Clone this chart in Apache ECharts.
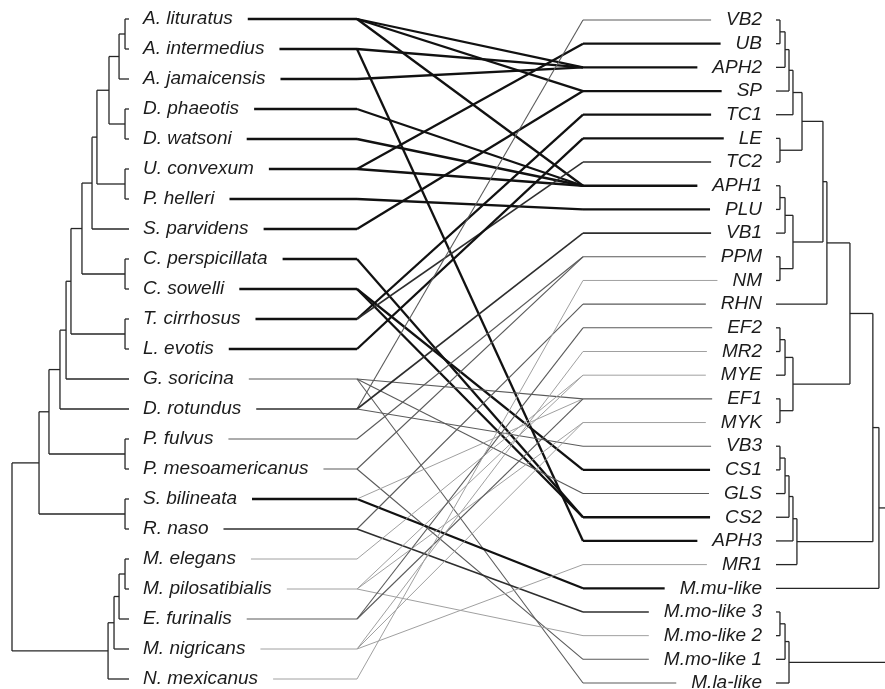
<!DOCTYPE html>
<html><head><meta charset="utf-8">
<script src="https://cdn.jsdelivr.net/npm/echarts@6/dist/echarts.min.js"></script>
<style>html,body{margin:0;padding:0;background:#fff}#c{width:885px;height:689px}</style>
</head><body><div id="c"></div>
<script>
// ---------- DATA ----------
const leftTips = ["A. lituratus","A. intermedius","A. jamaicensis","D. phaeotis","D. watsoni","U. convexum","P. helleri","S. parvidens","C. perspicillata","C. sowelli","T. cirrhosus","L. evotis","G. soricina","D. rotundus","P. fulvus","P. mesoamericanus","S. bilineata","R. naso","M. elegans","M. pilosatibialis","E. furinalis","M. nigricans","N. mexicanus"];
const rightTips = ["VB2","UB","APH2","SP","TC1","LE","TC2","APH1","PLU","VB1","PPM","NM","RHN","EF2","MR2","MYE","EF1","MYK","VB3","CS1","GLS","CS2","APH3","MR1","M.mu-like","M.mo-like 3","M.mo-like 2","M.mo-like 1","M.la-like"];
// trees: [nodeHeight, child, child]; tips are names (height 0)
const leftTree = [1.0,
  [0.769,
    [0.684,
      [0.590,
        [0.538,
          [0.496,
            [0.402,
              [0.316,
                [0.274,
                  [0.171,
                    [0.085, [0.034, "A. lituratus", "A. intermedius"], "A. jamaicensis"],
                    [0.034, "D. phaeotis", "D. watsoni"]],
                  [0.034, "U. convexum", "P. helleri"]],
                "S. parvidens"],
              [0.034, "C. perspicillata", "C. sowelli"]],
            [0.034, "T. cirrhosus", "L. evotis"]],
          "G. soricina"],
        "D. rotundus"],
      [0.034, "P. fulvus", "P. mesoamericanus"]],
    [0.034, "S. bilineata", "R. naso"]],
  [0.179, [0.128, [0.085, [0.034, "M. elegans", "M. pilosatibialis"], "E. furinalis"], "M. nigricans"], "N. mexicanus"]
];
const rightTree = [1.0,
  [0.831,
    [0.782,
      [0.597,
        [0.411,
          [0.379,
            [0.210,
              [0.137, [0.105, [0.073, [0.032, "VB2", "UB"], "APH2"], "SP"], "TC1"],
              [0.032, "LE", "TC2"]],
            [0.137, [0.073, [0.032, "APH1", "PLU"], "VB1"], [0.032, "PPM", "NM"]]],
          "RHN"],
        [0.137, [0.073, [0.032, "EF2", "MR2"], "MYE"], [0.032, "EF1", "MYK"]]],
      [0.169, [0.137, [0.105, [0.073, [0.032, "VB3", "CS1"], "GLS"], "CS2"], "APH3"], "MR1"]],
    "M.mu-like"],
  [0.105, [0.073, [0.032, "M.mo-like 3", "M.mo-like 2"], "M.mo-like 1"], "M.la-like"]
];
const rightVisibleHeight = 0.88; // the right tree's root lies beyond the picture's right edge
const linkLeft = ["A. lituratus","A. lituratus","A. lituratus","A. intermedius","A. intermedius","A. jamaicensis","D. phaeotis","D. watsoni","U. convexum","U. convexum","P. helleri","S. parvidens","C. perspicillata","C. sowelli","C. sowelli","T. cirrhosus","T. cirrhosus","L. evotis","G. soricina","G. soricina","G. soricina","D. rotundus","D. rotundus","D. rotundus","P. fulvus","P. mesoamericanus","P. mesoamericanus","S. bilineata","S. bilineata","R. naso","R. naso","M. elegans","M. pilosatibialis","M. pilosatibialis","M. pilosatibialis","E. furinalis","E. furinalis","M. nigricans","M. nigricans","M. nigricans","N. mexicanus"];
const linkRight = ["APH2","SP","APH1","APH2","APH3","APH2","APH1","APH1","UB","APH1","PLU","SP","CS2","CS1","CS2","TC1","TC2","LE","EF1","GLS","M.la-like","VB2","VB1","VB3","PPM","PPM","M.mo-like 1","M.mu-like","EF1","RHN","M.mo-like 3","MYE","MYE","MYK","M.mo-like 2","EF2","EF1","MR2","MYK","MR1","NM"];
const linkStrength = [3,3,3,3,3,3,3,3,3,3,3,3,3,3,3,3,2,3,1,1,1,1,2,1,1,1,1,3,0,1,2,0,0,0,0,1,1,0,0,0,0];

// ---------- STYLE ----------
const FONT_SIZE = 19, FONT_FAMILY = '"Liberation Sans", Arial, sans-serif';
const levelStyle = [
  {stroke:'#a0a0a0', lineWidth:1},
  {stroke:'#5a5a5a', lineWidth:1.1},
  {stroke:'#2e2e2e', lineWidth:1.6},
  {stroke:'#111111', lineWidth:2.3}
];
const TREE_STYLE = {stroke:'#262626', lineWidth:1.3};
const LABEL_GAP = 14, STUB_GAP = 15;

const ctx = document.createElement('canvas').getContext('2d');
ctx.font = 'italic ' + FONT_SIZE + 'px ' + FONT_FAMILY;
const textW = s => ctx.measureText(s).width;

function treeSegments(tree, tips) {
  const segs = [];
  (function walk(n) {
    if (typeof n === 'string') return {h: 0, y: tips.indexOf(n)};
    const h = n[0];
    const kids = n.slice(1).map(walk);
    const ys = kids.map(k => k.y);
    const lo = Math.min(...ys), hi = Math.max(...ys);
    segs.push([h, lo, h, hi]);
    kids.forEach(k => segs.push([k.h, k.y, h, k.y]));
    return {h, y: (lo + hi) / 2};
  })(tree);
  return segs;
}
const leftSegs = treeSegments(leftTree, leftTips);
const rightSegs = treeSegments(rightTree, rightTips);

const linkData = linkLeft.map((l, i) => [leftTips.indexOf(l), rightTips.indexOf(linkRight[i]), linkStrength[i]]);
const leftLevel = leftTips.map(n => Math.max(...linkLeft.map((l, i) => l === n ? linkStrength[i] : -1)));
const rightLevel = rightTips.map(n => Math.max(...linkRight.map((r, i) => r === n ? linkStrength[i] : -1)));

const chart = echarts.init(document.getElementById('c'), null, {renderer: 'canvas'});

function segRender(params, api) {
  const a = api.coord([api.value(0), api.value(1)]);
  const b = api.coord([api.value(2), api.value(3)]);
  return {type: 'line', shape: {x1: a[0], y1: a[1], x2: b[0], y2: b[1]}, style: TREE_STYLE, silent: true};
}
function textEl(x, y, s, align) {
  return {type: 'text', x, y, silent: true,
    style: {text: s, fill: '#1c1c1c', fontSize: FONT_SIZE, fontFamily: FONT_FAMILY, fontStyle: 'italic', align, verticalAlign: 'middle'}};
}
const axisHidden = {show: false};

chart.setOption({
  animation: false,
  backgroundColor: '#fff',
  grid: [
    {left: 12, width: 117, top: 19, bottom: 10},      // left tree
    {left: 776, right: 0, top: 20, bottom: 6},        // right tree
    {left: 357, width: 226, top: 19, bottom: 10}      // connector band
  ],
  xAxis: [
    Object.assign({type: 'value', gridIndex: 0, min: 0, max: 1, inverse: true}, axisHidden),
    Object.assign({type: 'value', gridIndex: 1, min: 0, max: rightVisibleHeight}, axisHidden),
    Object.assign({type: 'value', gridIndex: 2, min: 0, max: 1}, axisHidden)
  ],
  yAxis: [
    Object.assign({type: 'value', gridIndex: 0, min: 0, max: leftTips.length - 1, inverse: true}, axisHidden),
    Object.assign({type: 'value', gridIndex: 1, min: 0, max: rightTips.length - 1, inverse: true}, axisHidden),
    Object.assign({type: 'value', gridIndex: 2, min: 0, max: leftTips.length - 1, inverse: true}, axisHidden)
  ],
  series: [
    {type: 'custom', xAxisIndex: 0, yAxisIndex: 0, data: leftSegs, renderItem: segRender, encode: {x: [0, 2], y: [1, 3]}},
    {type: 'custom', xAxisIndex: 1, yAxisIndex: 1, data: rightSegs, renderItem: segRender, encode: {x: [0, 2], y: [1, 3]}},
    {type: 'custom', xAxisIndex: 0, yAxisIndex: 0, data: leftTips.map((n, i) => [0, i]),
      encode: {x: 0, y: 1},
      renderItem: (p, api) => {
        const pt = api.coord([0, api.value(1)]);
        return textEl(pt[0] + LABEL_GAP, pt[1], leftTips[p.dataIndex], 'left');
      }},
    {type: 'custom', xAxisIndex: 1, yAxisIndex: 1, data: rightTips.map((n, i) => [0, i]),
      encode: {x: 0, y: 1},
      renderItem: (p, api) => {
        const pt = api.coord([0, api.value(1)]);
        return textEl(pt[0] - LABEL_GAP, pt[1], rightTips[p.dataIndex], 'right');
      }},
    // left stubs: label end -> connector start
    {type: 'custom', xAxisIndex: 2, yAxisIndex: 2, data: leftTips.map((n, i) => [0, i]),
      encode: {x: 0, y: 1},
      renderItem: (p, api) => {
        const i = p.dataIndex;
        const end = api.coord([0, api.value(1)]);
        const tipX = chart.convertToPixel({xAxisIndex: 0}, 0);
        const x0 = tipX + LABEL_GAP + textW(leftTips[i]) + STUB_GAP;
        return {type: 'line', silent: true, shape: {x1: x0, y1: end[1], x2: end[0], y2: end[1]}, style: levelStyle[leftLevel[i]]};
      }},
    // right stubs: connector end -> label start
    {type: 'custom', xAxisIndex: 1, yAxisIndex: 1, data: rightTips.map((n, i) => [0, i]),
      encode: {x: 0, y: 1},
      renderItem: (p, api) => {
        const i = p.dataIndex;
        const tip = api.coord([0, api.value(1)]);
        const x0 = chart.convertToPixel({xAxisIndex: 2}, 1);
        const x1 = tip[0] - LABEL_GAP - textW(rightTips[i]) - STUB_GAP;
        return {type: 'line', silent: true, shape: {x1: x0, y1: tip[1], x2: x1, y2: tip[1]}, style: levelStyle[rightLevel[i]]};
      }},
    // connectors
    {type: 'custom', xAxisIndex: 2, yAxisIndex: 2, data: linkData, z: 3,
      encode: {x: 2, y: 0},
      renderItem: (p, api) => {
        const a = api.coord([0, api.value(0)]);
        const bx = api.coord([1, api.value(0)])[0];
        const by = chart.convertToPixel({yAxisIndex: 1}, api.value(1));
        return {type: 'line', silent: true, shape: {x1: a[0], y1: a[1], x2: bx, y2: by}, style: levelStyle[api.value(2)]};
      }}
  ]
});
</script>
</body></html>
